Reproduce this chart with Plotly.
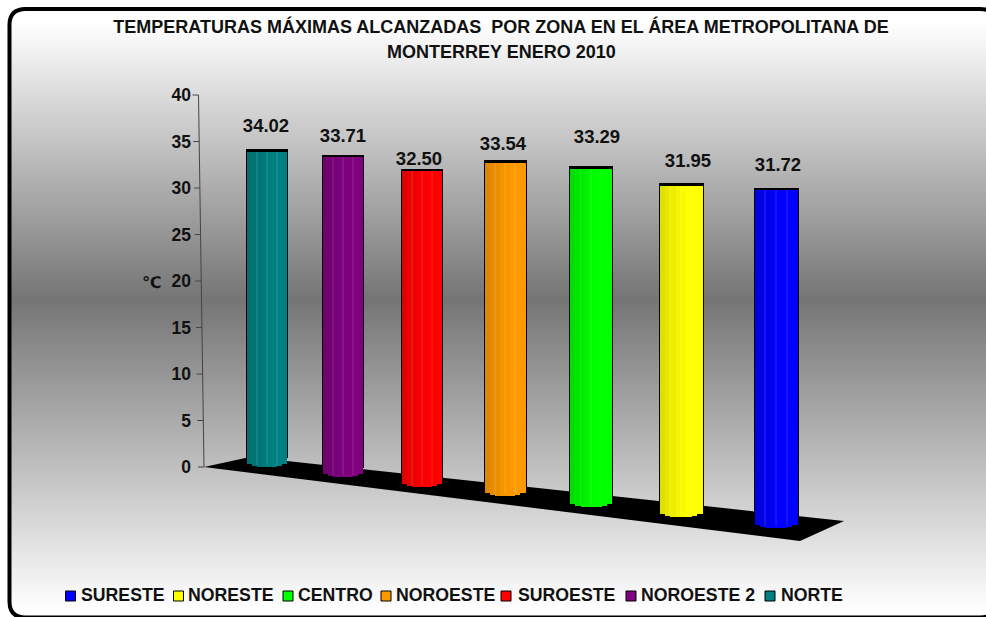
import plotly.graph_objects as go
import math

# ---- data ----
zones = ["NORTE", "NOROESTE 2", "SUROESTE", "NOROESTE", "CENTRO", "NORESTE", "SURESTE"]
temps = [34.02, 33.71, 32.50, 33.54, 33.29, 31.95, 31.72]
temp_labels = ["34.02", "33.71", "32.50", "33.54", "33.29", "31.95", "31.72"]
colors = ["#008080", "#800080", "#FF0000", "#FF9900", "#00FF00", "#FFFF00", "#0000FF"]
y_ticks = [0, 5, 10, 15, 20, 25, 30, 35, 40]
title_lines = ["TEMPERATURAS MÁXIMAS ALCANZADAS\u00a0\u00a0POR ZONA EN EL ÁREA METROPOLITANA DE",
               "MONTERREY ENERO 2010"]
unit_label = "℃"

# ---- picture geometry (pixels) ----
W, H = 986, 617
Y0_PX, PX_PER_UNIT = 467.0, 9.3
depth_scale = [1.0, 1.024, 1.049, 1.072, 1.097, 1.12, 1.149]   # perspective growth of a column
depth_drop_px = [0, 10, 20, 29, 40, 50, 61]                      # floor drop of a column
col_center = [267, 343, 422, 505, 591, 681, 776]
col_width = [40, 40, 40, 41, 42, 43, 43]
label_x = [266, 343, 419, 503, 597, 688, 778]
label_y_px = [127, 137, 160, 145, 138, 162, 166]
legend_order = [6, 5, 4, 3, 2, 1, 0]
legend_swatch_x = [70.5, 178.5, 288, 386, 506, 631, 770]
legend_text_x = [82, 189, 299, 397, 519, 642, 782]
LEG_Y = 597
floor = [(204, 467), (250, 457), (844, 521), (800, 541)]
gray_stops = [(0, 255), (22, 255), (300, 117), (610, 255), (617, 255)]
FONT = "Liberation Sans"
INK = "#111111"


def u(px):
    return (Y0_PX - px) / PX_PER_UNIT


def pp(x, y):
    return f"{x / W:.5f},{1 - y / H:.5f}"


def gray_at(py):
    for (a, ga), (b, gb) in zip(gray_stops, gray_stops[1:]):
        if a <= py <= b:
            return round(ga + (gb - ga) * (py - a) / (b - a))
    return 255


def shade(hex_color, k, mix=0.0):
    r, g, b = (int(hex_color[i:i + 2], 16) for i in (1, 3, 5))
    r, g, b = (c * k * (1 - mix) + 255 * mix for c in (r, g, b))
    return f"rgb({round(r)},{round(g)},{round(b)})"


def rounded(l, t, r, b, rad):
    return (f"M{pp(l + rad, t)} L{pp(r - rad, t)} Q{pp(r, t)} {pp(r, t + rad)} "
            f"L{pp(r, b - rad)} Q{pp(r, b)} {pp(r - rad, b)} "
            f"L{pp(l + rad, b)} Q{pp(l, b)} {pp(l, b - rad)} "
            f"L{pp(l, t + rad)} Q{pp(l, t)} {pp(l + rad, t)} Z")


shapes = []
# vertical background gradient
for py in range(0, H, 2):
    g = gray_at(py + 1)
    shapes.append(dict(type="rect", xref="paper", yref="paper", x0=0, x1=1,
                       y0=1 - (py + 2.5) / H, y1=1 - py / H, layer="below",
                       fillcolor=f"rgb({g},{g},{g})", line_width=0))
border = rounded(9.5, 9, 996, 617.5, 16)
# white outside the rounded frame
shapes.append(dict(type="path", xref="paper", yref="paper", layer="below",
                   path=f"M{pp(-5, -5)} L{pp(W + 5, -5)} L{pp(W + 5, H + 5)} L{pp(-5, H + 5)} Z " + border,
                   fillcolor="white", line_width=0))
shapes.append(dict(type="path", xref="paper", yref="paper", layer="below", path=border,
                   line=dict(color="#000000", width=4)))
# floor
shapes.append(dict(type="path", xref="paper", yref="paper", layer="below",
                   path="M" + " L".join(pp(x, y) for x, y in floor) + " Z",
                   fillcolor="#000000", line_width=0))

fig = go.Figure()

# outline behind each column
heights = [t * s - 1.3 / PX_PER_UNIT for t, s in zip(temps, depth_scale)]
bases = [-d / PX_PER_UNIT for d in depth_drop_px]
outline_base = [b + 9 / PX_PER_UNIT for b in bases]
fig.add_trace(go.Bar(
    x=col_center, base=outline_base,
    y=[b + h + 2.5 / PX_PER_UNIT - ob for b, h, ob in zip(bases, heights, outline_base)],
    width=[w + 2 for w in col_width], marker=dict(color="#000000", line_width=0),
    showlegend=False, hoverinfo="skip"))

# faceted columns
N = 8
light = [0.88, 0.90, 0.93, 0.96, 0.98, 1.0, 1.0, 1.0]
for i, zone in enumerate(zones):
    w = col_width[i] / N
    xs, ws, bs, hs, cs = [], [], [], [], []
    for j in range(N):
        t = (j + 0.5) / N * 2 - 1
        lift = 5 * depth_scale[i] * (1 - math.sqrt(1 - t * t)) / PX_PER_UNIT
        xs.append(col_center[i] - col_width[i] / 2 + (j + 0.5) * w)
        ws.append(w)
        bs.append(bases[i] + lift)
        hs.append(heights[i] - lift)
        cs.append(shade(colors[i], light[j]))
    # faint lighter facet edges
    for j in (2, 4, 6):
        xs.append(col_center[i] - col_width[i] / 2 + j * w)
        ws.append(1)
        bs.append(bases[i] + 2 / PX_PER_UNIT)
        hs.append(heights[i] - 2 / PX_PER_UNIT)
        cs.append(shade(colors[i], light[j], 0.08))
    fig.add_trace(go.Bar(x=xs, y=hs, base=bs, width=ws, name=zone,
                         marker=dict(color=cs, line_width=0), showlegend=False))

# y axis line and slanted ticks
line_x = lambda v: 204 - v / 40 * 5.5
tx, ty = [], []
for v in y_ticks:
    tx += [line_x(v) - 6, line_x(v), None]
    ty += [v, v, None]
tx += [line_x(0), line_x(40)]
ty += [0, 40]
fig.add_trace(go.Scatter(x=tx, y=ty, mode="lines", line=dict(color="#444444", width=1),
                         showlegend=False, hoverinfo="skip"))

# value labels
fig.add_trace(go.Scatter(x=label_x, y=[u(p) for p in label_y_px], mode="text",
                         text=[f"<b>{t}</b>" for t in temp_labels],
                         textposition="middle center",
                         textfont=dict(family=FONT, size=18.5, color=INK),
                         showlegend=False, hoverinfo="skip"))

# legend
fig.add_trace(go.Scatter(x=legend_swatch_x, y=[u(596)] * 7, mode="markers",
                         marker=dict(symbol="square", size=10,
                                     color=[colors[k] for k in legend_order],
                                     line=dict(color="#000000", width=1)),
                         showlegend=False, hoverinfo="skip"))
fig.add_trace(go.Scatter(x=[x - 1 for x in legend_text_x], y=[u(LEG_Y)] * 7, mode="text",
                         text=[f"<b>{zones[k]}</b>" for k in legend_order], textposition="middle right",
                         textfont=dict(family=FONT, size=17.7, color=INK),
                         showlegend=False, hoverinfo="skip"))

fig.update_layout(
    width=W, height=H, autosize=False,
    margin=dict(l=0, r=0, t=0, b=0, pad=0),
    paper_bgcolor="white", plot_bgcolor="rgba(0,0,0,0)",
    barmode="overlay", bargap=0, showlegend=False,
    font=dict(family=FONT, color=INK),
    title=dict(text=f"<b>{title_lines[0]}</b>", x=501 / W, xanchor="center",
               y=1 - 27 / H, yanchor="middle", font=dict(family=FONT, size=18, color=INK)),
    xaxis=dict(visible=False, range=[0, W], fixedrange=True),
    yaxis=dict(range=[u(H), u(0)], anchor="free", position=191 / W, side="left",
               tickmode="array", tickvals=y_ticks, ticktext=[f"<b>{v}</b>" for v in y_ticks],
               showgrid=False, zeroline=False, showline=False, ticks="", fixedrange=True,
               tickfont=dict(family=FONT, size=17.5, color=INK)),
    shapes=shapes,
    annotations=[
        dict(text=f"<b>{title_lines[1]}</b>", xref="paper", yref="paper", x=501 / W, y=1 - 52 / H,
             showarrow=False, xanchor="center", yanchor="middle",
             font=dict(family=FONT, size=18, color=INK)),
        dict(text=f"<b>{unit_label}</b>", xref="paper", yref="paper", x=151 / W, y=1 - 282 / H,
             showarrow=False, xanchor="center", yanchor="middle",
             font=dict(family="DejaVu Sans", size=16, color=INK)),
    ],
)

fig.write_html("out.html", config={"displayModeBar": False},
               post_script="document.body.style.margin='0';document.body.style.overflow='hidden';")
